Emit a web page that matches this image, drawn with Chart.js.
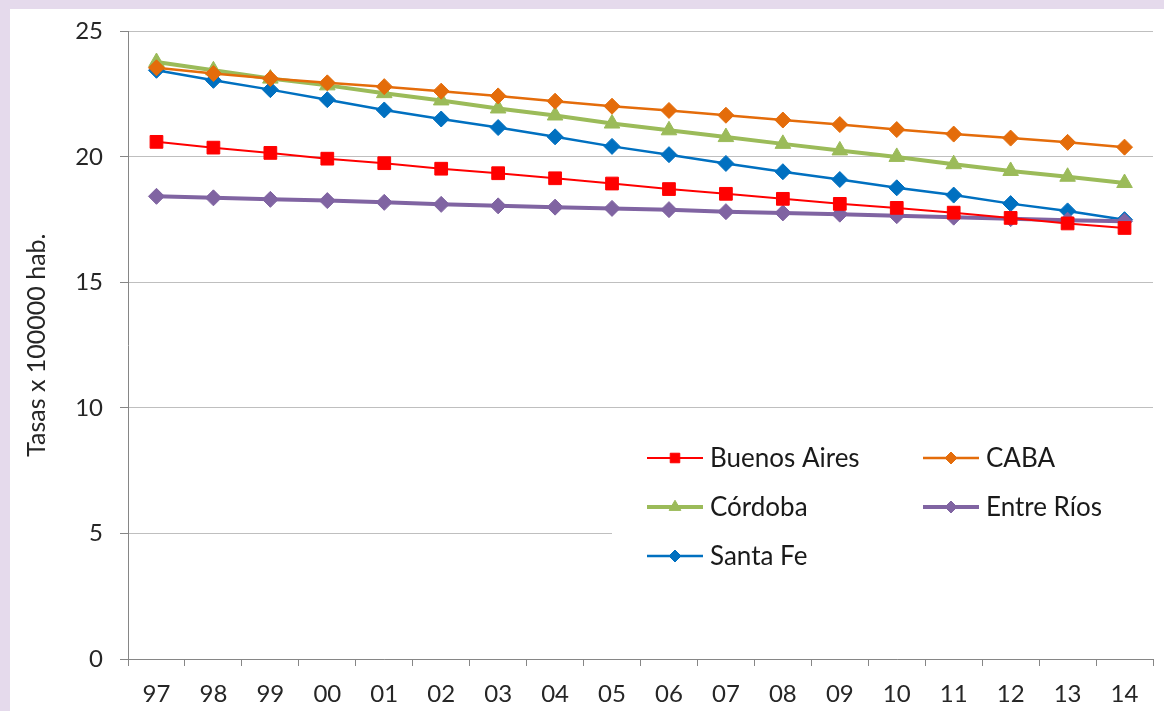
<!DOCTYPE html>
<html>
<head>
<meta charset="utf-8">
<title>Tasas x 100000 hab.</title>
<script src="https://cdn.jsdelivr.net/npm/chart.js@4/dist/chart.umd.min.js"></script>
<style>
  html, body { margin: 0; padding: 0; background: #ffffff; }
  #wrap { width: 1164px; height: 711px; position: relative; }
  canvas { display: block; }
</style>
</head>
<body>
<div id="wrap"><canvas id="chart" width="1164" height="711"></canvas></div>
<script>
// Years (two-digit labels)
const years = ['97','98','99','00','01','02','03','04','05','06','07','08','09','10','11','12','13','14'];

// Rates per 100000 inhabitants, by province
const buenosAires = [20.60, 20.37, 20.16, 19.93, 19.75, 19.53, 19.35, 19.15, 18.94, 18.72, 18.53, 18.33, 18.13, 17.97, 17.78, 17.57, 17.35, 17.17];
const caba        = [23.55, 23.32, 23.12, 22.95, 22.80, 22.62, 22.43, 22.22, 22.02, 21.85, 21.66, 21.47, 21.29, 21.09, 20.91, 20.75, 20.58, 20.39];
const cordoba     = [23.78, 23.45, 23.12, 22.85, 22.54, 22.25, 21.93, 21.65, 21.33, 21.06, 20.79, 20.52, 20.26, 20.00, 19.71, 19.44, 19.21, 18.96];
const entreRios   = [18.43, 18.37, 18.31, 18.26, 18.19, 18.11, 18.05, 18.00, 17.95, 17.90, 17.82, 17.77, 17.72, 17.66, 17.60, 17.54, 17.48, 17.44];
const santaFe     = [23.45, 23.05, 22.68, 22.28, 21.87, 21.51, 21.17, 20.80, 20.42, 20.09, 19.74, 19.41, 19.10, 18.77, 18.48, 18.14, 17.85, 17.50];

// Y axis tick values
const yTicks = [0, 5, 10, 15, 20, 25];

const FONT = 'Lato, Carlito, Calibri, "Open Sans", sans-serif';
const TEXT = '#262626';

function series(label, data, color, width, style, radius) {
  return {
    label, data,
    borderColor: color, backgroundColor: color,
    borderWidth: width,
    pointStyle: style, pointRadius: radius, pointHoverRadius: radius,
    pointBorderWidth: 1, pointBorderColor: color, pointBackgroundColor: color,
    tension: 0, fill: false
  };
}

const datasets = [
  series('Buenos Aires', buenosAires, '#FF0000', 2,   'rect',     9),
  series('CABA',         caba,        '#E46C0A', 2.5, 'rectRot',  8),
  series('Córdoba',      cordoba,     '#9BBB59', 4,   'triangle', 9),
  series('Entre Ríos',   entreRios,   '#8064A2', 4,   'rectRot',  8),
  series('Santa Fe',     santaFe,     '#0070C0', 2.5, 'rectRot',  8)
];

// Page frame: lavender border with white panel
const framePlugin = {
  id: 'frame',
  beforeDraw(chart) {
    const { ctx, width, height } = chart;
    ctx.save();
    ctx.fillStyle = '#E5DAEC';
    ctx.fillRect(0, 0, width, height);
    ctx.fillStyle = '#FFFFFF';
    ctx.fillRect(10, 9, width - 10, height - 9);
    ctx.restore();
  }
};

// Two-column legend inside the plot area, line + marker per entry
const legendPlugin = {
  id: 'insideLegend',
  beforeDatasetsDraw(chart) {
    const { ctx } = chart;
    ctx.save();
    ctx.fillStyle = '#FFFFFF';
    ctx.fillRect(612, 425, 541, 165);
    ctx.restore();
  },
  afterDraw(chart) {
    const { ctx } = chart;
    const cols = [647, 923];
    const rows = [458, 507, 556];
    const lineLen = 56;
    chart.data.datasets.forEach((ds, i) => {
      const x = cols[i % 2];
      const y = rows[Math.floor(i / 2)];
      ctx.save();
      ctx.strokeStyle = ds.borderColor;
      ctx.lineWidth = ds.borderWidth;
      ctx.beginPath();
      ctx.moveTo(x, y);
      ctx.lineTo(x + lineLen, y);
      ctx.stroke();
      ctx.fillStyle = ds.pointBackgroundColor;
      ctx.strokeStyle = ds.pointBorderColor;
      ctx.lineWidth = 1;
      Chart.helpers.drawPoint(ctx, {
        pointStyle: ds.pointStyle,
        radius: ds.pointRadius * 0.75,
        rotation: 0,
        borderWidth: 1
      }, x + lineLen / 2, y);
      ctx.fillStyle = '#1A1A1A';
      ctx.font = '26px ' + FONT;
      ctx.textBaseline = 'middle';
      ctx.textAlign = 'left';
      ctx.fillText(ds.label, x + lineLen + 7, y + 1);
      ctx.restore();
    });
  }
};

new Chart(document.getElementById('chart'), {
  type: 'line',
  data: { labels: years, datasets },
  plugins: [framePlugin, legendPlugin],
  options: {
    responsive: false,
    animation: false,
    devicePixelRatio: 1,
    layout: { padding: { left: 10, top: 31, right: 11, bottom: 0 } },
    plugins: {
      legend: { display: false },
      tooltip: { enabled: false },
      title: { display: false }
    },
    scales: {
      x: {
        type: 'category',
        offset: true,
        grid: {
          offset: true,
          drawOnChartArea: false,
          drawTicks: true,
          tickLength: 7,
          color: '#868686',
          tickColor: '#868686'
        },
        border: { display: true, color: '#868686', width: 1 },
        ticks: {
          color: TEXT,
          font: { family: FONT, size: 24 },
          padding: 14,
          maxRotation: 0,
          autoSkip: false
        },
        afterFit(scale) { scale.height = 52; }
      },
      y: {
        min: 0,
        max: 25,
        afterBuildTicks(scale) { scale.ticks = yTicks.map(v => ({ value: v })); },
        grid: {
          color: '#BFBFBF',
          tickColor: '#868686',
          tickLength: 8,
          drawTicks: true
        },
        border: { display: true, color: '#868686', width: 1 },
        ticks: {
          color: TEXT,
          font: { family: FONT, size: 24 },
          padding: 17
        },
        title: {
          display: true,
          text: 'Tasas x 100000 hab.',
          color: TEXT,
          font: { family: FONT, size: 25 },
          padding: { top: 12, bottom: 0 }
        },
        afterFit(scale) { scale.width = 118; }
      }
    }
  }
});
</script>
</body>
</html>
